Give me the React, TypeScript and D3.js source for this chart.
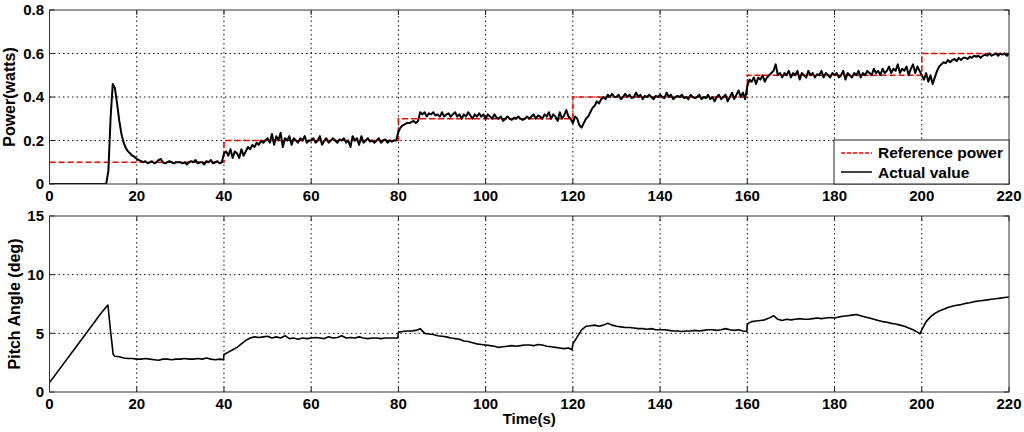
import React from 'react'
import * as d3 from 'd3'

// sample spacing of the power trace, seconds
const powerStep = 0.5

// actual power (watts), one value every 0.5 s from 0 to 220 s
const powerValues = [
  0, 0, 0, 0, 0, 0, 0, 0, 0, 0, 0, 0, 0, 0, 0, 0, 0, 0, 0, 0,
  0, 0, 0, 0, 0, 0, 0, 0.06, 0.30, 0.46, 0.44, 0.37, 0.29, 0.23, 0.19, 0.165, 0.15, 0.14, 0.13, 0.125,
  0.115, 0.11, 0.105, 0.10, 0.105, 0.095, 0.10, 0.105, 0.095, 0.10, 0.11, 0.115, 0.10, 0.095, 0.10, 0.105, 0.10, 0.095, 0.10, 0.10,
  0.10, 0.095, 0.10, 0.09, 0.10, 0.105, 0.10, 0.11, 0.095, 0.10, 0.10, 0.09, 0.105, 0.10, 0.11, 0.095, 0.10, 0.105, 0.095, 0.10,
  0.14, 0.15, 0.13, 0.16, 0.12, 0.15, 0.14, 0.12, 0.16, 0.13, 0.15, 0.17, 0.16, 0.18, 0.17, 0.19, 0.18, 0.20, 0.19, 0.20,
  0.21, 0.19, 0.23, 0.18, 0.22, 0.20, 0.235, 0.17, 0.21, 0.20, 0.22, 0.18, 0.21, 0.20, 0.19, 0.21, 0.20, 0.22, 0.19, 0.20,
  0.20, 0.21, 0.19, 0.20, 0.22, 0.18, 0.20, 0.21, 0.19, 0.20, 0.21, 0.20, 0.19, 0.205, 0.20, 0.21, 0.19, 0.20, 0.17, 0.22,
  0.20, 0.21, 0.18, 0.22, 0.19, 0.20, 0.21, 0.195, 0.20, 0.19, 0.20, 0.21, 0.19, 0.20, 0.205, 0.19, 0.20, 0.195, 0.20, 0.20,
  0.24, 0.26, 0.27, 0.275, 0.28, 0.28, 0.285, 0.29, 0.28, 0.29, 0.33, 0.32, 0.33, 0.31, 0.325, 0.32, 0.33, 0.315, 0.32, 0.31,
  0.33, 0.31, 0.32, 0.325, 0.31, 0.32, 0.33, 0.31, 0.32, 0.30, 0.32, 0.31, 0.33, 0.315, 0.30, 0.32, 0.31, 0.325, 0.31, 0.32,
  0.30, 0.32, 0.31, 0.30, 0.32, 0.305, 0.30, 0.31, 0.29, 0.30, 0.31, 0.30, 0.295, 0.305, 0.30, 0.31, 0.30, 0.295, 0.30, 0.31,
  0.30, 0.31, 0.32, 0.30, 0.315, 0.31, 0.30, 0.32, 0.31, 0.33, 0.30, 0.32, 0.31, 0.29, 0.33, 0.30, 0.315, 0.34, 0.31, 0.30,
  0.28, 0.31, 0.30, 0.27, 0.26, 0.28, 0.30, 0.31, 0.33, 0.35, 0.36, 0.38, 0.37, 0.39, 0.40, 0.39, 0.41, 0.40, 0.415, 0.40,
  0.40, 0.41, 0.39, 0.40, 0.415, 0.40, 0.41, 0.395, 0.40, 0.42, 0.40, 0.41, 0.39, 0.405, 0.40, 0.41, 0.40, 0.39, 0.405, 0.40,
  0.41, 0.40, 0.395, 0.42, 0.40, 0.41, 0.39, 0.40, 0.405, 0.40, 0.41, 0.395, 0.40, 0.39, 0.41, 0.40, 0.395, 0.40, 0.41, 0.39,
  0.40, 0.395, 0.41, 0.39, 0.40, 0.38, 0.40, 0.41, 0.39, 0.40, 0.41, 0.38, 0.40, 0.42, 0.39, 0.41, 0.43, 0.40, 0.42, 0.39,
  0.45, 0.48, 0.47, 0.49, 0.46, 0.49, 0.48, 0.50, 0.47, 0.49, 0.50, 0.51, 0.52, 0.55, 0.50, 0.51, 0.49, 0.51, 0.50, 0.52,
  0.49, 0.51, 0.50, 0.52, 0.48, 0.51, 0.50, 0.49, 0.52, 0.50, 0.51, 0.49, 0.505, 0.50, 0.52, 0.49, 0.51, 0.50, 0.49, 0.51,
  0.50, 0.51, 0.49, 0.50, 0.52, 0.48, 0.51, 0.50, 0.49, 0.51, 0.50, 0.52, 0.49, 0.51, 0.50, 0.52, 0.51, 0.50, 0.53, 0.51,
  0.52, 0.50, 0.53, 0.51, 0.52, 0.54, 0.51, 0.53, 0.52, 0.55, 0.51, 0.53, 0.52, 0.54, 0.50, 0.53, 0.55, 0.51, 0.54, 0.52,
  0.50, 0.48, 0.51, 0.47, 0.50, 0.46, 0.49, 0.52, 0.54, 0.55, 0.56, 0.555, 0.57, 0.56, 0.57, 0.575, 0.565, 0.58, 0.57, 0.58,
  0.58, 0.575, 0.585, 0.58, 0.59, 0.585, 0.59, 0.58, 0.59, 0.595, 0.59, 0.60, 0.59, 0.595, 0.60, 0.59, 0.60, 0.595, 0.60, 0.59,
  0.60,
]

// reference power steps
const refTimes = [0, 40, 80, 120, 160, 200, 220]
const refLevels = [0.1, 0.2, 0.3, 0.4, 0.5, 0.6, 0.6]

// pitch angle (deg) as [time, value]
const pitchData: [number, number][] = [
  [0, 0.8], [1, 1.3], [2, 1.8], [3, 2.3], [4, 2.8], [5, 3.3], [6, 3.8], [7, 4.3], [8, 4.8], [9, 5.3],
  [10, 5.8], [11, 6.3], [12, 6.8], [13, 7.25], [13.4, 7.4], [14, 5.2], [14.6, 3.2], [15, 3.05], [16, 3.0], [17, 2.9],
  [18, 2.85], [19, 2.85], [20, 2.8], [21, 2.8], [22, 2.85], [23, 2.8], [24, 2.75], [25, 2.7], [26, 2.8], [27, 2.8],
  [28, 2.75], [29, 2.8], [30, 2.8], [31, 2.85], [32, 2.8], [33, 2.8], [34, 2.85], [35, 2.8], [36, 2.9], [37, 2.8],
  [38, 2.75], [39, 2.8], [39.9, 2.75], [40, 3.2], [41, 3.4], [42, 3.6], [43, 3.8], [44, 4.1], [45, 4.4], [46, 4.6],
  [47, 4.7], [48, 4.65], [49, 4.7], [50, 4.75], [51, 4.6], [52, 4.7], [53, 4.6], [54, 4.8], [55, 4.55], [56, 4.6],
  [57, 4.5], [58, 4.6], [59, 4.55], [60, 4.6], [61, 4.65], [62, 4.6], [63, 4.55], [64, 4.7], [65, 4.6], [66, 4.65],
  [67, 4.8], [68, 4.6], [69, 4.65], [70, 4.6], [71, 4.7], [72, 4.6], [73, 4.55], [74, 4.6], [75, 4.6], [76, 4.55],
  [77, 4.6], [78, 4.6], [79, 4.6], [79.9, 4.6], [80, 5.1], [81, 5.15], [82, 5.2], [83, 5.2], [84, 5.25], [85, 5.4],
  [86, 5.0], [87, 4.95], [88, 4.9], [89, 4.8], [90, 4.75], [91, 4.7], [92, 4.6], [93, 4.55], [94, 4.5], [95, 4.35],
  [96, 4.3], [97, 4.2], [98, 4.1], [99, 4.05], [100, 4.0], [101, 3.95], [102, 3.9], [103, 3.8], [104, 3.85], [105, 3.9],
  [106, 3.95], [107, 3.9], [108, 3.95], [109, 4.0], [110, 4.0], [111, 3.95], [112, 4.05], [113, 4.0], [114, 3.9], [115, 3.85],
  [116, 3.8], [117, 3.75], [118, 3.7], [119, 3.75], [119.8, 3.6], [120, 4.1], [121, 4.7], [122, 5.3], [123, 5.6], [124, 5.65],
  [125, 5.7], [126, 5.6], [127, 5.7], [128, 5.85], [129, 5.7], [130, 5.6], [131, 5.55], [132, 5.5], [133, 5.5], [134, 5.45],
  [135, 5.4], [136, 5.4], [137, 5.35], [138, 5.4], [139, 5.3], [140, 5.3], [141, 5.3], [142, 5.25], [143, 5.2], [144, 5.2],
  [145, 5.15], [146, 5.2], [147, 5.2], [148, 5.25], [149, 5.2], [150, 5.25], [151, 5.3], [152, 5.3], [153, 5.25], [154, 5.3],
  [155, 5.4], [156, 5.3], [157, 5.25], [158, 5.3], [159, 5.2], [159.9, 5.15], [160, 5.8], [161, 6.0], [162, 6.05], [163, 6.1],
  [164, 6.15], [165, 6.3], [166, 6.5], [167, 6.2], [168, 6.1], [169, 6.2], [170, 6.15], [171, 6.2], [172, 6.25], [173, 6.2],
  [174, 6.2], [175, 6.25], [176, 6.3], [177, 6.25], [178, 6.3], [179, 6.35], [180, 6.3], [181, 6.4], [182, 6.45], [183, 6.5],
  [184, 6.55], [185, 6.6], [186, 6.5], [187, 6.4], [188, 6.3], [189, 6.2], [190, 6.1], [191, 6.0], [192, 5.95], [193, 5.85],
  [194, 5.8], [195, 5.7], [196, 5.6], [197, 5.45], [198, 5.3], [199, 5.1], [199.6, 4.95], [200, 5.3], [201, 6.0], [202, 6.4],
  [203, 6.7], [204, 6.9], [205, 7.05], [206, 7.2], [207, 7.3], [208, 7.4], [209, 7.45], [210, 7.55], [211, 7.6], [212, 7.7],
  [213, 7.75], [214, 7.8], [215, 7.85], [216, 7.9], [217, 7.95], [218, 8.0], [219, 8.05], [220, 8.1],
]

const xTicks = [0, 20, 40, 60, 80, 100, 120, 140, 160, 180, 200, 220]
const powerTicks = [0, 0.2, 0.4, 0.6, 0.8]
const pitchTicks = [0, 5, 10, 15]

const W = 1024
const H = 432
const left = 49.5
const right = 1009
const font = '"Liberation Sans", Arial, sans-serif'

const x = d3.scaleLinear().domain([0, 220]).range([left, right])
const yPower = d3.scaleLinear().domain([0, 0.8]).range([184, 10])
const yPitch = d3.scaleLinear().domain([0, 15]).range([392, 216])

const Panel = ({ y, ticks, label, labelX, id, children }) => {
  const [y0, y1] = y.range()
  return (
    <g>
      <defs>
        <clipPath id={id}>
          <rect x={left} y={y1} width={right - left} height={y0 - y1} />
        </clipPath>
      </defs>
      <rect x={left} y={y1} width={right - left} height={y0 - y1} fill="#fff" />
      {xTicks.slice(1, -1).map(t => (
        <line key={'gx' + t} x1={x(t)} x2={x(t)} y1={y0} y2={y1} stroke="#111" strokeDasharray="1.5,3" />
      ))}
      {ticks.slice(1, -1).map(t => (
        <line key={'gy' + t} x1={left} x2={right} y1={y(t)} y2={y(t)} stroke="#111" strokeDasharray="1.5,3" />
      ))}
      <g clipPath={`url(#${id})`}>{children}</g>
      {xTicks.map(t => (
        <g key={'tx' + t}>
          <line x1={x(t)} x2={x(t)} y1={y0} y2={y0 - 5} stroke="#222" />
          <line x1={x(t)} x2={x(t)} y1={y1} y2={y1 + 5} stroke="#222" />
          <text x={x(t)} y={y0 + 17} textAnchor="middle" fontSize={15} fontWeight="bold" fontFamily={font}>{t}</text>
        </g>
      ))}
      {ticks.map(t => (
        <g key={'ty' + t}>
          <line x1={left} x2={left + 5} y1={y(t)} y2={y(t)} stroke="#222" />
          <line x1={right} x2={right - 5} y1={y(t)} y2={y(t)} stroke="#222" />
          <text x={44} y={y(t)} dy="0.36em" textAnchor="end" fontSize={15} fontWeight="bold" fontFamily={font}>{String(t)}</text>
        </g>
      ))}
      <rect x={left} y={y1} width={right - left} height={y0 - y1} fill="none" stroke="#333" />
      <text transform={`translate(${labelX},${(y0 + y1) / 2}) rotate(-90)`} textAnchor="middle" dy="0.36em"
        fontSize={16} fontWeight="bold" fontFamily={font}>{label}</text>
    </g>
  )
}

const App = () => {
  const powerLine = d3.line<number>()
    .x((d, i) => x(i * powerStep))
    .y(d => yPower(d))
  const refLine = d3.line<number>()
    .x((d, i) => x(refTimes[i]))
    .y(d => yPower(d))
    .curve(d3.curveStepAfter)
  const pitchLine = d3.line<[number, number]>()
    .x(d => x(d[0]))
    .y(d => yPitch(d[1]))

  return (
    <svg width={W} height={H} style={{ position: 'absolute', left: 0, top: 0, background: '#fff' }}>
      <Panel y={yPower} ticks={powerTicks} label="Power(watts)" labelX={9} id="clipPower">
        <path d={refLine(refLevels)} fill="none" stroke="#ff0000" strokeWidth={1.6} strokeDasharray="6,3" />
        <path d={powerLine(powerValues)} fill="none" stroke="#000" strokeWidth={2} strokeLinejoin="round" />
      </Panel>
      <g>
        <rect x={834} y={140} width={right - 834} height={44} fill="#fff" stroke="#222" />
        <line x1={841} x2={872} y1={153} y2={153} stroke="#ff0000" strokeWidth={1.6} strokeDasharray="4,2" />
        <text x={878} y={158} fontSize={15.5} fontWeight="bold" fontFamily={font}>Reference power</text>
        <line x1={841} x2={872} y1={172} y2={172} stroke="#000" strokeWidth={1.5} />
        <text x={878} y={178} fontSize={15.5} fontWeight="bold" fontFamily={font}>Actual value</text>
      </g>
      <Panel y={yPitch} ticks={pitchTicks} label="Pitch Angle (deg)" labelX={14} id="clipPitch">
        <path d={pitchLine(pitchData)} fill="none" stroke="#000" strokeWidth={1.6} strokeLinejoin="round" />
      </Panel>
      <text x={(left + right) / 2} y={424} textAnchor="middle" fontSize={15} fontWeight="bold" fontFamily={font}>Time(s)</text>
    </svg>
  )
}

export default App
